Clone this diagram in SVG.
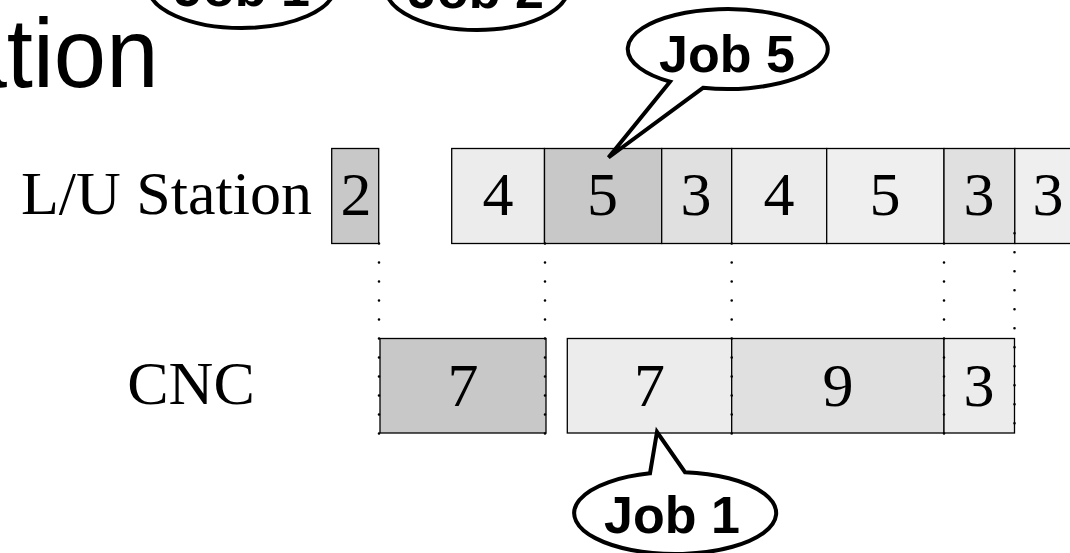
<svg xmlns="http://www.w3.org/2000/svg" width="1070" height="553" viewBox="0 0 1070 553">
<style>
.box{stroke:#000;stroke-width:1.3}
.dk{fill:#c8c8c8}.md{fill:#e0e0e0}.lt{fill:#ececec}.vl{fill:#efefef}
.num{font-family:"Liberation Serif","Times New Roman",serif;font-size:62px;text-anchor:middle;fill:#000}
.lbl{font-family:"Liberation Serif","Times New Roman",serif;font-size:62px;fill:#000}
.dot{stroke:#000;stroke-width:2.6;stroke-linecap:round;stroke-dasharray:0 19;fill:none}
.call{fill:#fff;stroke:#000;stroke-width:4;stroke-linejoin:miter}
.ct{font-family:"Liberation Sans",Arial,sans-serif;font-weight:bold;font-size:52px;text-anchor:middle;fill:#000}
</style>
<rect width="1070" height="553" fill="#fff"/>
<text id="title" transform="translate(158.5,87) scale(0.96,1)" text-anchor="end" font-family="Liberation Sans, Arial, sans-serif" font-size="98">ation</text>
<text id="lu-label" class="lbl" x="21" y="214">L/U Station</text>
<text id="cnc-label" class="lbl" x="191" y="404" text-anchor="middle">CNC</text>
<g id="lu-row">
<g id="lu1"><rect class="box dk" x="331.7" y="148.5" width="47" height="95"/><text class="num" x="356" y="215">2</text></g>
<g id="lu2"><rect class="box lt" x="451.7" y="148.5" width="92.8" height="95"/><text class="num" x="498" y="215">4</text></g>
<g id="lu3"><rect class="box dk" x="544.5" y="148.5" width="117.2" height="95"/><text class="num" x="602.5" y="215">5</text></g>
<g id="lu4"><rect class="box md" x="661.7" y="148.5" width="70" height="95"/><text class="num" x="696" y="215">3</text></g>
<g id="lu5"><rect class="box lt" x="731.7" y="148.5" width="95" height="95"/><text class="num" x="779" y="215">4</text></g>
<g id="lu6"><rect class="box vl" x="826.7" y="148.5" width="117.3" height="95"/><text class="num" x="885" y="215">5</text></g>
<g id="lu7"><rect class="box md" x="944" y="148.5" width="70.8" height="95"/><text class="num" x="979" y="215">3</text></g>
<g id="lu8"><rect class="box vl" x="1014.8" y="148.5" width="70" height="95"/><text class="num" x="1048" y="215">3</text></g>
</g>
<g id="cnc-row">
<g id="c1"><rect class="box dk" x="380" y="338.5" width="166" height="94.5"/><text class="num" x="463" y="406">7</text></g>
<g id="c2"><rect class="box lt" x="567.3" y="338.5" width="164.4" height="94.5"/><text class="num" x="649.5" y="406">7</text></g>
<g id="c3"><rect class="box md" x="731.7" y="338.5" width="212.3" height="94.5"/><text class="num" x="838" y="406">9</text></g>
<g id="c4"><rect class="box lt" x="944" y="338.5" width="70.5" height="94.5"/><text class="num" x="979" y="406">3</text></g>
</g>
<g id="connectors">
<line class="dot" x1="379" y1="243.5" x2="379" y2="434"/>
<line class="dot" x1="545" y1="243.5" x2="545" y2="434"/>
<line class="dot" x1="731.7" y1="243.5" x2="731.7" y2="434"/>
<line class="dot" x1="944" y1="243.5" x2="944" y2="434"/>
<line class="dot" x1="1014.5" y1="233.3" x2="1014.5" y2="430"/>
</g>
<g id="callout-job1-top"><ellipse class="call" cx="241.5" cy="-13" rx="93" ry="41"/><text class="ct" x="242" y="6">Job 1</text></g>
<g id="callout-job2-top"><ellipse class="call" cx="477" cy="-12" rx="91" ry="42"/><text class="ct" x="476" y="8">Job 2</text></g>
<g id="callout-job5"><path class="call" d="M670 81.7 L608.5 157.5 L703 87.8 A100 40 0 1 0 670 81.7 Z"/><text class="ct" x="727" y="71.5">Job 5</text></g>
<g id="callout-job1"><path class="call" d="M650 473.3 L657 432 L685 472.2 A101 41 0 1 1 650 473.3 Z"/><text class="ct" x="672" y="533">Job 1</text></g>
</svg>
